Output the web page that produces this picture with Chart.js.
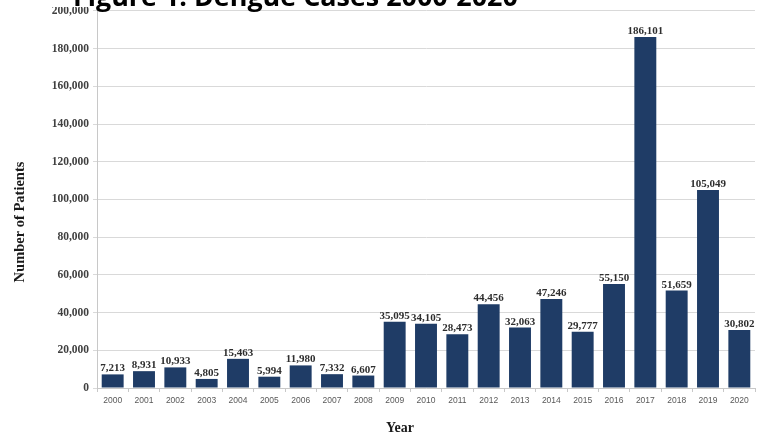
<!DOCTYPE html>
<html>
<head>
<meta charset="utf-8">
<script src="https://cdn.jsdelivr.net/npm/chart.js@4.4.1/dist/chart.umd.min.js"></script>
<style>
html,body{margin:0;padding:0;background:#fff;}
#wrap{width:762px;height:436px;position:relative;}
</style>
</head>
<body>
<div id="wrap"><canvas id="c" width="762" height="436"></canvas></div>
<script>
const years = ['2000','2001','2002','2003','2004','2005','2006','2007','2008','2009','2010','2011','2012','2013','2014','2015','2016','2017','2018','2019','2020'];
const cases = [7213,8931,10933,4805,15463,5994,11980,7332,6607,35095,34105,28473,44456,32063,47246,29777,55150,186101,51659,105049,30802];
const titleText = 'Figure 1: Dengue Cases 2000-2020';
const xTitle = 'Year';
const yTitle = 'Number of Patients';
const yMax = 200000;
const yStep = 20000;

const fmt = v => v.toLocaleString('en-US');
const serif = '"Liberation Serif", "DejaVu Serif", serif';

const labelsPlugin = {
  id: 'extras',
  afterDatasetsDraw(chart) {
    const ctx = chart.ctx;
    const meta = chart.getDatasetMeta(0);
    ctx.save();
    ctx.font = 'bold 11px ' + serif;
    ctx.fillStyle = '#2e2e2e';
    ctx.textAlign = 'center';
    ctx.textBaseline = 'alphabetic';
    meta.data.forEach((bar, i) => {
      ctx.fillText(fmt(cases[i]), bar.x, bar.y - 3);
    });
    ctx.restore();
  },
  afterDraw(chart) {
    const ctx = chart.ctx;
    ctx.save();
    ctx.fillStyle = '#1a1a1a';
    ctx.font = 'bold 14px ' + serif;
    ctx.textAlign = 'center';
    ctx.textBaseline = 'middle';
    ctx.fillText(xTitle, 400, 428);
    ctx.translate(20, 222);
    ctx.rotate(-Math.PI / 2);
    ctx.font = 'bold 14.5px ' + serif;
    ctx.fillText(yTitle, 0, 0);
    ctx.restore();
    // clipped title at top
    ctx.save();
    ctx.fillStyle = '#ffffff';
    ctx.fillRect(40, 0, 520, 7);
    let fs = 24;
    ctx.font = 'bold ' + fs + 'px "Open Sans", "Liberation Sans", sans-serif';
    const w = ctx.measureText(titleText).width;
    fs = fs * 445 / w;
    ctx.font = 'bold ' + fs.toFixed(2) + 'px "Open Sans", "Liberation Sans", sans-serif';
    ctx.fillStyle = '#000000';
    ctx.textAlign = 'left';
    ctx.textBaseline = 'alphabetic';
    ctx.fillText(titleText, 73, 6);
    ctx.restore();
  }
};

new Chart(document.getElementById('c'), {
  type: 'bar',
  data: {
    labels: years,
    datasets: [{
      data: cases,
      backgroundColor: '#1f3c66',
      borderWidth: 0,
      categoryPercentage: 1.0,
      barPercentage: 0.7
    }]
  },
  options: {
    responsive: false,
    animation: false,
    devicePixelRatio: 1,
    layout: { padding: { left: 0, right: 7, top: 9, bottom: 0 } },
    plugins: { legend: { display: false }, tooltip: { enabled: false }, title: { display: false } },
    scales: {
      x: {
        afterFit(scale) { scale.height = 48; },
        grid: { display: true, drawOnChartArea: false, drawTicks: true, tickLength: 4, color: '#c8c8c8', offset: true },
        border: { display: true, color: '#c8c8c8', width: 1 },
        ticks: { color: '#595959', font: { family: '"Liberation Sans", sans-serif', size: 8.5 }, padding: 4, maxRotation: 0, autoSkip: false }
      },
      y: {
        min: 0,
        max: yMax,
        afterFit(scale) { scale.width = 97; },
        grid: { color: '#d9d9d9', tickLength: 4, drawTicks: true },
        border: { display: true, color: '#c8c8c8', width: 1 },
        ticks: {
          stepSize: yStep,
          color: '#404040',
          padding: 4,
          font: { family: serif, size: 11.5, weight: 'bold' },
          callback: v => fmt(v)
        }
      }
    }
  },
  plugins: [labelsPlugin]
});
</script>
</body>
</html>
